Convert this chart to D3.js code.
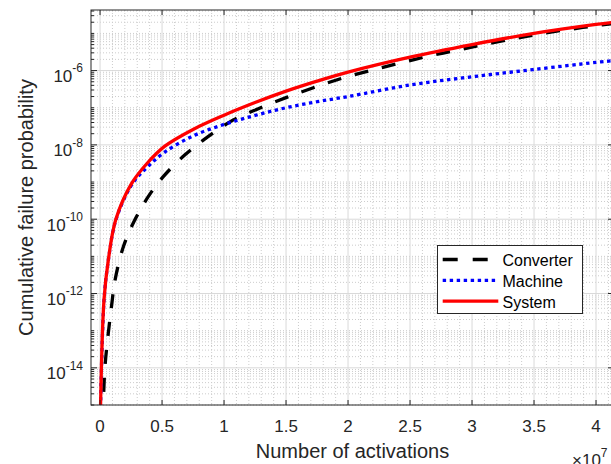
<!DOCTYPE html>
<html>
<head>
<meta charset="utf-8">
<script src="https://cdn.jsdelivr.net/npm/d3@7"></script>
<style>
  body { margin: 0; background: #fff; }
  svg { display: block; font-family: "Liberation Sans", Arial, Helvetica, sans-serif; }
</style>
</head>
<body>
<div id="chart"></div>
<script>
var width = 611;
var height = 464;

// x values are in units of 1e7 activations
var convX = [0.02, 0.027, 0.04, 0.067, 0.094, 0.121, 0.19, 0.282, 0.39, 0.51, 0.685, 0.83, 1.075, 1.29,
  1.505, 1.72, 1.95, 2.18, 2.42, 2.65, 2.89, 3.12, 3.35, 3.57, 3.81, 4.05, 4.15];
var convP = [4.0e-16, 1.4e-15, 1.1e-14, 8.9e-14, 5.0e-13, 2.3e-12, 1.9e-11, 9.8e-11, 4.1e-10, 1.4e-9, 5.4e-9, 1.32e-8, 4.7e-8, 9.8e-8,
  1.9e-7, 3.45e-7, 6.2e-7, 1.0e-6, 1.6e-6, 2.45e-6, 3.6e-6, 5.2e-6, 7.3e-6, 1.0e-5, 1.32e-5, 1.7e-5, 1.86e-5];

var machX = [0.003, 0.032, 0.067, 0.127, 0.256, 0.38, 0.52, 0.75, 1.0, 1.25, 1.5, 1.75, 2.0, 2.5, 3.0, 3.5, 4.0, 4.15];
var machP = [5.6e-16, 6.6e-13, 7.9e-12, 9.3e-11, 8.5e-10, 2.5e-9, 6.3e-9, 1.74e-8, 3.55e-8, 6.2e-8, 1.0e-7, 1.45e-7, 2.0e-7, 4.1e-7, 6.8e-7, 1.07e-6, 1.66e-6, 1.86e-6];

var sysX = [0.003, 0.032, 0.067, 0.127, 0.256, 0.38, 0.52, 0.75, 1.0, 1.25, 1.5, 1.75, 2.0, 2.5, 3.0, 3.5, 4.0, 4.15];
var sysP = [6.3e-16, 6.9e-13, 8.1e-12, 9.8e-11, 9.3e-10, 3.2e-9, 9.1e-9, 2.6e-8, 6.3e-8, 1.38e-7, 2.8e-7, 5.2e-7, 9.1e-7, 2.3e-6, 5.0e-6, 1.0e-5, 1.74e-5, 2.0e-5];

var series = [
  {name: "Converter", xs: convX, ps: convP, color: "#000000", dash: "14,14"},
  {name: "Machine", xs: machX, ps: machP, color: "#0000ff", dash: "3.4,3.6"},
  {name: "System", xs: sysX, ps: sysP, color: "#ff0000", dash: null}
];

var xTicks = [0, 0.5, 1, 1.5, 2, 2.5, 3, 3.5, 4];
var yTickExps = [-14, -12, -10, -8, -6];

var pLeft = 91, pRight = 614, pTop = 10, pBottom = 405;
var yMax = Math.pow(10, -4.37);
var axisColor = "#262626";

var svg = d3.select("#chart").append("svg")
  .attr("width", width)
  .attr("height", height);

var x = d3.scaleLinear().domain([-0.073, 4.145]).range([pLeft, pRight]);
var y = d3.scaleLog().domain([1e-15, yMax]).range([pBottom, pTop]);

svg.append("defs").append("clipPath").attr("id", "plotclip")
  .append("rect").attr("x", pLeft).attr("y", pTop).attr("width", pRight - pLeft).attr("height", pBottom - pTop);

// minor grid
var xMinor = d3.range(1, 42).map(function(i) { return i / 10; })
  .filter(function(v) { return Math.abs(v * 2 - Math.round(v * 2)) > 1e-6; });
var yMinor = [];
for (var e = -15; e <= -5; e++) {
  for (var k = 1; k <= 9; k++) {
    var v = k * Math.pow(10, e);
    if (k == 1 && yTickExps.indexOf(e) >= 0) continue;
    if (v >= 1e-15 && v <= yMax) yMinor.push(v);
  }
}

var grid = svg.append("g");
grid.selectAll(".xminor").data(xMinor).enter().append("line")
  .attr("x1", function(d) { return x(d); }).attr("x2", function(d) { return x(d); })
  .attr("y1", pTop).attr("y2", pBottom)
  .attr("stroke", "#cccccc").attr("stroke-width", 1).attr("stroke-dasharray", "1,2");
grid.selectAll(".yminor").data(yMinor).enter().append("line")
  .attr("x1", pLeft).attr("x2", pRight)
  .attr("y1", function(d) { return y(d); }).attr("y2", function(d) { return y(d); })
  .attr("stroke", "#cccccc").attr("stroke-width", 1).attr("stroke-dasharray", "1,2");
grid.selectAll(".xmajor").data(xTicks).enter().append("line")
  .attr("x1", function(d) { return x(d); }).attr("x2", function(d) { return x(d); })
  .attr("y1", pTop).attr("y2", pBottom)
  .attr("stroke", "#d9d9d9").attr("stroke-width", 1);
grid.selectAll(".ymajor").data(yTickExps).enter().append("line")
  .attr("x1", pLeft).attr("x2", pRight)
  .attr("y1", function(d) { return y(Math.pow(10, d)); }).attr("y2", function(d) { return y(Math.pow(10, d)); })
  .attr("stroke", "#d9d9d9").attr("stroke-width", 1);

// curves (centripetal catmull-rom copes with the near vertical start)
var line = d3.line()
  .x(function(d) { return x(d[0]); })
  .y(function(d) { return y(d[1]); })
  .curve(d3.curveCatmullRom.alpha(0.5));

var curves = svg.append("g").attr("clip-path", "url(#plotclip)");
series.forEach(function(s) {
  var pts = s.xs.map(function(v, i) { return [v, s.ps[i]]; });
  curves.append("path")
    .attr("d", line(pts))
    .attr("fill", "none")
    .attr("stroke", s.color)
    .attr("stroke-width", 3.3)
    .attr("stroke-dasharray", s.dash);
});

// axes box and ticks
var ax = svg.append("g").attr("stroke", axisColor).attr("stroke-width", 1);
ax.append("rect").attr("x", pLeft).attr("y", pTop).attr("width", pRight - pLeft).attr("height", pBottom - pTop)
  .attr("fill", "none");
xTicks.forEach(function(t) {
  ax.append("line").attr("x1", x(t)).attr("x2", x(t)).attr("y1", pBottom).attr("y2", pBottom - 5);
  ax.append("line").attr("x1", x(t)).attr("x2", x(t)).attr("y1", pTop).attr("y2", pTop + 5);
});
yTickExps.forEach(function(t) {
  var yy = y(Math.pow(10, t));
  ax.append("line").attr("x1", pLeft).attr("x2", pLeft + 6).attr("y1", yy).attr("y2", yy);
  ax.append("line").attr("x1", pRight).attr("x2", pRight - 6).attr("y1", yy).attr("y2", yy);
});
yMinor.forEach(function(v) {
  var yy = y(v);
  ax.append("line").attr("x1", pLeft).attr("x2", pLeft + 3).attr("y1", yy).attr("y2", yy);
  ax.append("line").attr("x1", pRight).attr("x2", pRight - 3).attr("y1", yy).attr("y2", yy);
});

// tick labels
svg.selectAll(".xlab").data(xTicks).enter().append("text")
  .attr("x", function(d) { return x(d); })
  .attr("y", 432)
  .attr("text-anchor", "middle")
  .attr("font-size", 17)
  .attr("fill", axisColor)
  .text(function(d) { return d; });

yTickExps.forEach(function(t) {
  var yy = y(Math.pow(10, t));
  var tx = svg.append("text")
    .attr("x", 83)
    .attr("y", yy + 11.3)
    .attr("text-anchor", "end")
    .attr("fill", axisColor)
    .attr("font-size", 17);
  tx.append("tspan").text("10");
  tx.append("tspan").attr("dy", -9.5).attr("font-size", 12).text("-" + Math.abs(t));
});

// x exponent
var ex = svg.append("text").attr("x", 572).attr("y", 466).attr("fill", axisColor).attr("font-size", 17);
ex.append("tspan").text("\u00d710");
ex.append("tspan").attr("dy", -9).attr("font-size", 12).text("7");

// axis labels
svg.append("text")
  .attr("x", (pLeft + pRight) / 2)
  .attr("y", 458)
  .attr("text-anchor", "middle")
  .attr("font-size", 20)
  .attr("fill", axisColor)
  .text("Number of activations");

svg.append("text")
  .attr("transform", "translate(33," + ((pTop + pBottom) / 2) + ") rotate(-90)")
  .attr("text-anchor", "middle")
  .attr("font-size", 20)
  .attr("fill", axisColor)
  .text("Cumulative failure probability");

// legend
var lg = svg.append("g");
lg.append("rect").attr("x", 437.5).attr("y", 245.5).attr("width", 145).attr("height", 68)
  .attr("fill", "#fff").attr("stroke", axisColor).attr("stroke-width", 1);
series.forEach(function(s, i) {
  var ly = 259.5 + i * 20.8;
  lg.append("line")
    .attr("x1", 442.7).attr("x2", 498.3).attr("y1", ly).attr("y2", ly)
    .attr("stroke", s.color).attr("stroke-width", 3.3)
    .attr("stroke-dasharray", s.dash ? (i == 0 ? "15,15" : s.dash) : null);
  lg.append("text")
    .attr("x", 502.5).attr("y", ly + 6.5)
    .attr("font-size", 16)
    .attr("fill", "#000")
    .text(s.name);
});
</script>
</body>
</html>
